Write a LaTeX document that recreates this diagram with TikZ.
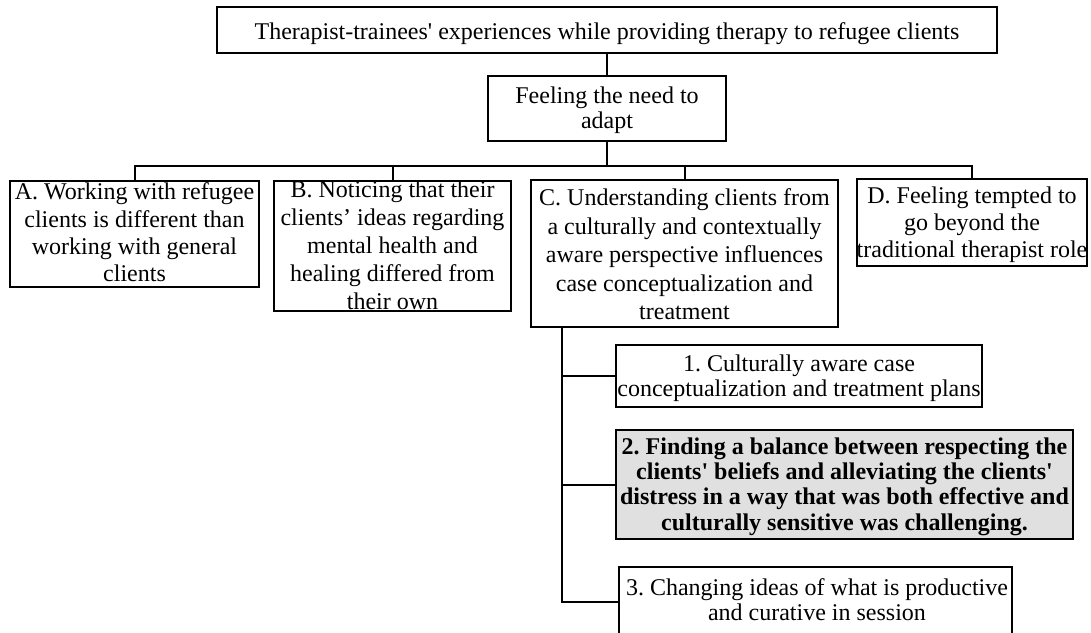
\documentclass[tikz,border=0pt]{standalone}
\usepackage{fontspec}
\setmainfont{Liberation Serif}
\frenchspacing
\usetikzlibrary{fit}
\tikzset{
  box/.style={draw=black, line width=1.5pt, inner sep=0pt, fill=white},
  grayfill/.style={fill=black!12},
  txt/.style={align=center, inner sep=0pt, font=\fontsize{18pt}{#1}\selectfont},
  txtb/.style={align=center, inner sep=0pt, font=\fontsize{18pt}{#1}\selectfont\bfseries},
  conn/.style={draw=black, line width=1.5pt}
}
\begin{document}
\begin{tikzpicture}[x=0.75pt, y=-0.75pt]
\useasboundingbox (0,0) rectangle (1091,632);
% boxes
\node[box, fit={(217,7) (997,53)}] (T) {};
\node[box, fit={(488,76) (726,141)}] (F) {};
\node[box, fit={(10,181) (259,287)}] (A) {};
\node[box, fit={(274,181) (511,311)}] (B) {};
\node[box, fit={(531,180) (838,327)}] (C) {};
\node[box, fit={(857,179) (1087,266)}] (D) {};
\node[box, fit={(616,345) (982,407)}] (S1) {};
\node[box, grayfill, fit={(616,430) (1073,539)}] (S2) {};
\node[box, fit={(619,567) (1012,636)}] (S3) {};
% connectors
\coordinate (bus) at (607,166);
\coordinate (cs) at (562,327);
\draw[conn] (T.south) -- (F.north);
\draw[conn] (F.south) -- (bus);
\draw[conn] (A.north) |- (bus);
\draw[conn] (D.north) |- (bus);
\draw[conn] (B.north) -- (B.north |- bus);
\draw[conn] (C.north) -- (C.north |- bus);
\draw[conn] (cs) |- (S1.west);
\draw[conn] (cs) |- (S2.west);
\draw[conn] (cs) |- (S3.west);
% texts
\node[txt=20.7pt] (Tt) at (607,33.5) {\strut Therapist-trainees\textquotesingle{} experiences while providing therapy to refugee clients};
\node[txt=18.75pt] (Ft) at (607,110.5) {\strut Feeling the need to\\\strut adapt};
\node[txt=20.5pt] (At) at (134.5,235.5) {\strut A. Working with refugee\\\strut clients is different than\\\strut working with general\\\strut clients};
\node[txt=21pt] (Bt) at (392.5,247.4) {\strut B. Noticing that their\\\strut clients’ ideas regarding\\\strut mental health and\\\strut healing differed from\\\strut their own};
\node[txt=21.4pt] (Ct) at (684.5,257) {\strut C. Understanding clients from\\\strut a culturally and contextually\\\strut aware perspective influences\\\strut case conceptualization and\\\strut treatment};
\node[txt=20.25pt] (Dt) at (972,225.3) {\strut D. Feeling tempted to\\\strut go beyond the\\\strut traditional therapist role};
\node[txt=17.25pt] (S1t) at (799,379) {\strut 1. Culturally aware case\\\strut conceptualization and treatment plans};
\node[txtb=19pt] (S2t) at (844.5,487) {\strut 2. Finding a balance between respecting the\\\strut clients\textquotesingle{} beliefs and alleviating the clients\textquotesingle\\\strut distress in a way that was both effective and\\\strut culturally sensitive was challenging.};
\node[txt=17.25pt] (S3t) at (817,603) {\strut 3. Changing ideas of what is productive\\\strut and curative in session};
\end{tikzpicture}
\end{document}
